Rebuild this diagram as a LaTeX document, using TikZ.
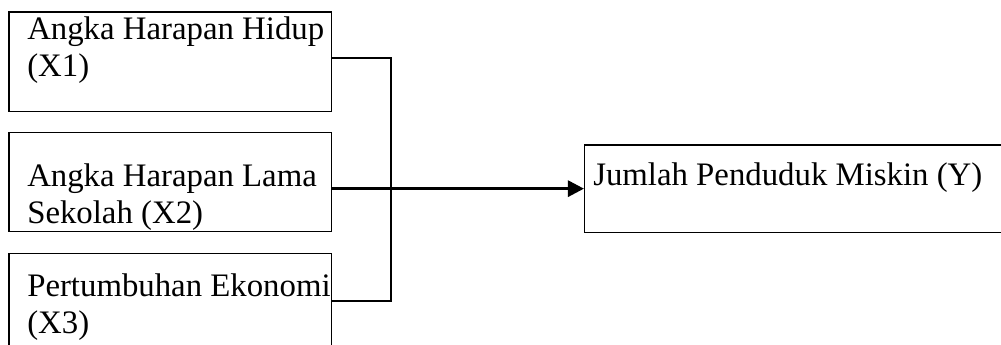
\documentclass[tikz,border=0pt]{standalone}
\usepackage{fontspec}
\setmainfont{Liberation Serif}
\usetikzlibrary{arrows.meta,fit}
\begin{document}
\begin{tikzpicture}[x=0.75pt,y=-0.75pt,
  box/.style={draw=black, line width=1.1pt, inner sep=0pt},
  txt/.style={anchor=base west, inner sep=0pt,
    font=\fontsize{24.6pt}{27.75pt}\selectfont},
  link/.style={line width=1.1pt},
  arr/.style={line width=2.2pt, -{Triangle[length=12pt 0 0,width=12pt 0 0]}}]
\useasboundingbox (0,0) rectangle (1001,344);
% corner points of the boxes
\coordinate (p1a) at (9,12);    \coordinate (p1b) at (331.5,111.7);
\coordinate (p2a) at (9,132.7); \coordinate (p2b) at (331.5,231.7);
\coordinate (p3a) at (9,253.3); \coordinate (p3b) at (331.5,370);
\coordinate (pya) at (584.7,145); \coordinate (pyb) at (1012,232.3);
% input boxes
\node[box, fit=(p1a) (p1b)] (b1) {};
\node[box, fit=(p2a) (p2b)] (b2) {};
\node[box, fit=(p3a) (p3b)] (b3) {};
% output box
\node[box, fit=(pya) (pyb)] (yb) {};
% texts
\node[txt] (t1) at (27,39) {\begin{tabular}[t]{@{}l@{}}Angka Harapan Hidup\\(X1)\end{tabular}};
\node[txt] (t2) at (27,186) {\begin{tabular}[t]{@{}l@{}}Angka Harapan Lama\\Sekolah (X2)\end{tabular}};
\node[txt] (t3) at (27,296.7) {\begin{tabular}[t]{@{}l@{}}Pertumbuhan Ekonomi\\(X3)\end{tabular}};
\node[txt] (ty) at (593,185) {Jumlah Penduduk Miskin (Y)};
% connectors
\coordinate (j1) at (391,58);
\coordinate (j3) at (391,301);
\draw[link] (b1.east |- j1) -- (j1) -- (j3) -- (b3.east |- j3);
\draw[arr] (b2.east |- yb.west) -- (yb.west);
\end{tikzpicture}
\end{document}
